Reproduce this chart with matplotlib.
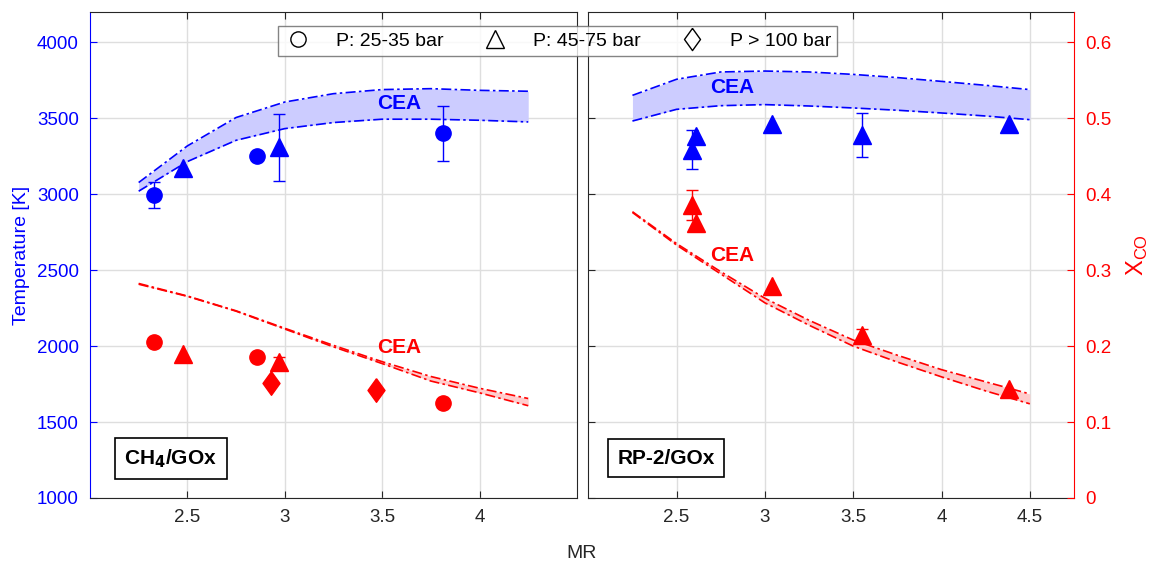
import matplotlib
matplotlib.use("Agg")
import matplotlib.pyplot as plt
import numpy as np
from matplotlib.lines import Line2D

plt.rcParams['font.family'] = ['Liberation Sans', 'DejaVu Sans']
plt.rcParams['font.size'] = 13.5

BLUE = (0, 0, 1)
RED = (1, 0, 0)
DARK = (0.15, 0.15, 0.15)

# CH4/GOx measurements
ch4_circ_mr = [2.33, 2.86, 3.81]
ch4_circ_T = [2995, 3252, 3400]
ch4_circ_Terr = [85, 0, 180]
ch4_circ_X = [0.206, 0.185, 0.125]

ch4_tri_mr = [2.48, 2.97]
ch4_tri_T = [3170, 3310]
ch4_tri_Terr = [0, 220]
ch4_tri_X = [0.190, 0.179]
ch4_tri_Xerr = [0, 0.006]

ch4_dia_mr = [2.93, 3.47]
ch4_dia_X = [0.151, 0.142]

# RP-2/GOx measurements
rp2_tri_mr = [2.585, 2.61, 3.04, 3.55, 4.38]
rp2_tri_T = [3294, 3382, 3465, 3393, 3465]
rp2_tri_Terr = [130, 0, 0, 145, 0]
rp2_tri_X = [0.386, 0.362, 0.279, 0.215, 0.143]
rp2_tri_Xerr = [0.02, 0, 0, 0.007, 0]

# CEA bands
cea_mr_ch4 = [2.25, 2.5, 2.75, 3.0, 3.25, 3.5, 3.75, 4.0, 4.25]
cea_T_ch4_hi = [3077, 3318, 3505, 3607, 3662, 3689, 3695, 3684, 3678]
cea_T_ch4_lo = [3020, 3215, 3355, 3432, 3472, 3494, 3494, 3487, 3476]
cea_X_ch4_hi = [0.2825, 0.266, 0.2465, 0.2235, 0.201, 0.1795, 0.160, 0.1445, 0.131]
cea_X_ch4_lo = [0.2815, 0.2655, 0.246, 0.2225, 0.199, 0.177, 0.154, 0.1385, 0.1215]

cea_mr_rp2 = [2.25, 2.5, 2.75, 3.0, 3.25, 3.5, 3.75, 4.0, 4.25, 4.5]
cea_T_rp2_hi = [3651, 3757, 3805, 3811, 3805, 3789, 3768, 3743, 3717, 3689]
cea_T_rp2_lo = [3482, 3559, 3583, 3590, 3581, 3568, 3553, 3535, 3515, 3491]
cea_X_rp2_hi = [0.377, 0.335, 0.298, 0.263, 0.234, 0.208, 0.188, 0.169, 0.153, 0.137]
cea_X_rp2_lo = [0.376, 0.333, 0.295, 0.257, 0.2275, 0.200, 0.179, 0.1595, 0.141, 0.124]

T_ticks = [1000, 1500, 2000, 2500, 3000, 3500, 4000]
X_ticks = [0, 0.1, 0.2, 0.3, 0.4, 0.5, 0.6]

diamond = [(0, 1), (0.72, 0), (0, -1), (-0.72, 0), (0, 1)]
dashdot = (0, (6, 2, 1.5, 2))


def band(ax, mr, lo, hi, color, fill):
    ax.fill_between(mr, lo, hi, color=fill, lw=0, zorder=1)
    ax.plot(mr, hi, color=color, ls=dashdot, lw=1.2, zorder=2)
    ax.plot(mr, lo, color=color, ls=dashdot, lw=1.2, zorder=2)


def points(ax, mr, y, err, color, marker, ms):
    mr, y = np.array(mr), np.array(y)
    if err is not None:
        err = np.array(err)
        m = err > 0
        ax.errorbar(mr[m], y[m], yerr=err[m], fmt='none', ecolor=color,
                    elinewidth=1, capsize=4, capthick=1, zorder=3)
    ax.plot(mr, y, ls='none', marker=marker, ms=ms, color=color,
            mec=color, zorder=4)


def style(ax, xlim, xticks):
    ax.set_xlim(*xlim)
    ax.set_ylim(1000, 4200)
    ax.set_xticks(xticks)
    ax.set_xticklabels([('%g' % t) for t in xticks])
    ax.set_yticks(T_ticks)
    ax.grid(True, color=(0.87, 0.87, 0.87), lw=1)
    ax.set_axisbelow(True)
    ax.tick_params(direction='in', length=5, top=True, colors=DARK,
                   labelsize=13.5, pad=8)
    for s in ax.spines.values():
        s.set_color(DARK)
        s.set_linewidth(0.8)


fig = plt.figure(figsize=(11.49, 5.62), dpi=100)
ax1 = fig.add_axes([0.0783, 0.1139, 0.4238, 0.8648])
ax2 = fig.add_axes([0.5120, 0.1139, 0.4227, 0.8648])

# left panel: CH4/GOx
style(ax1, (2.0, 4.5), [2.5, 3, 3.5, 4])
ax1.spines['left'].set_color(BLUE)
ax1.tick_params(axis='y', colors=BLUE, right=True)
ax1.set_ylabel('Temperature [K]', color=BLUE, fontsize=14, labelpad=5)

t1 = ax1.twinx()
t1.set_ylim(0, 0.64)
t1.axis('off')

band(ax1, cea_mr_ch4, cea_T_ch4_lo, cea_T_ch4_hi, BLUE, (0.8, 0.8, 1.0))
points(ax1, ch4_circ_mr, ch4_circ_T, ch4_circ_Terr, BLUE, 'o', 11)
points(ax1, ch4_tri_mr, ch4_tri_T, ch4_tri_Terr, BLUE, '^', 12.5)
ax1.text(3.586, 3599, 'CEA', color=BLUE, fontsize=15, fontweight='bold',
         ha='center', va='center')

band(t1, cea_mr_ch4, cea_X_ch4_lo, cea_X_ch4_hi, RED, (1.0, 0.8, 0.8))
points(t1, ch4_circ_mr, ch4_circ_X, None, RED, 'o', 11)
points(t1, ch4_tri_mr, ch4_tri_X, ch4_tri_Xerr, RED, '^', 12.5)
points(t1, ch4_dia_mr, ch4_dia_X, None, RED, diamond, 17)
t1.text(3.586, 0.198, 'CEA', color=RED, fontsize=15, fontweight='bold',
        ha='center', va='center')

ax1.text(0.166, 0.081, 'CH$_\\mathbf{4}$/GOx', transform=ax1.transAxes,
         fontsize=15, fontweight='bold', ha='center', va='center',
         bbox=dict(boxstyle='square,pad=0.45', fc='white', ec='black', lw=1.2),
         zorder=10)

# right panel: RP-2/GOx
style(ax2, (2.0, 4.75), [2.5, 3, 3.5, 4, 4.5])
ax2.tick_params(axis='y', labelleft=False, right=False)

t2 = ax2.twinx()
t2.set_ylim(0, 0.64)
t2.set_yticks(X_ticks)
t2.set_yticklabels([('%g' % v) for v in X_ticks])
t2.tick_params(axis='y', direction='in', length=5, colors=RED,
               labelsize=13.5, pad=8)
for s in t2.spines.values():
    s.set_visible(False)
t2.spines['right'].set_visible(True)
t2.spines['right'].set_color(RED)
t2.spines['right'].set_linewidth(0.8)
ax2.spines['right'].set_visible(False)
t2.set_ylabel('X$_\\mathregular{CO}$', color=RED, fontsize=17, labelpad=10)

band(ax2, cea_mr_rp2, cea_T_rp2_lo, cea_T_rp2_hi, BLUE, (0.8, 0.8, 1.0))
points(ax2, rp2_tri_mr, rp2_tri_T, rp2_tri_Terr, BLUE, '^', 12.5)
ax2.text(2.816, 3702, 'CEA', color=BLUE, fontsize=15, fontweight='bold',
         ha='center', va='center')

band(t2, cea_mr_rp2, cea_X_rp2_lo, cea_X_rp2_hi, RED, (1.0, 0.8, 0.8))
points(t2, rp2_tri_mr, rp2_tri_X, rp2_tri_Xerr, RED, '^', 12.5)
t2.text(2.816, 0.319, 'CEA', color=RED, fontsize=15, fontweight='bold',
        ha='center', va='center')

ax2.text(0.160, 0.082, 'RP-2/GOx', transform=ax2.transAxes,
         fontsize=15, fontweight='bold', ha='center', va='center',
         bbox=dict(boxstyle='square,pad=0.45', fc='white', ec='black', lw=1.2),
         zorder=10)

fig.text(0.5065, 0.0, 'MR', ha='center', va='bottom', fontsize=14, color=DARK)

handles = [
    Line2D([], [], ls='none', marker='o', ms=11, mfc='none', mec='black', mew=1),
    Line2D([], [], ls='none', marker='^', ms=12.5, mfc='none', mec='black', mew=1),
    Line2D([], [], ls='none', marker=diamond, ms=16, mfc='none', mec='black', mew=1),
]
leg = fig.legend(handles, ['P: 25-35 bar', 'P: 45-75 bar', 'P > 100 bar'],
                 loc='center', bbox_to_anchor=(0.4852, 0.927), ncol=3,
                 fontsize=14, frameon=True, fancybox=False, edgecolor=(0.4, 0.4, 0.4),
                 handletextpad=1.2, columnspacing=1.9, borderpad=0.3,
                 handlelength=1.5)
leg.get_frame().set_linewidth(1.0)
leg.set_zorder(20)

fig.savefig('out.png', dpi=100)
